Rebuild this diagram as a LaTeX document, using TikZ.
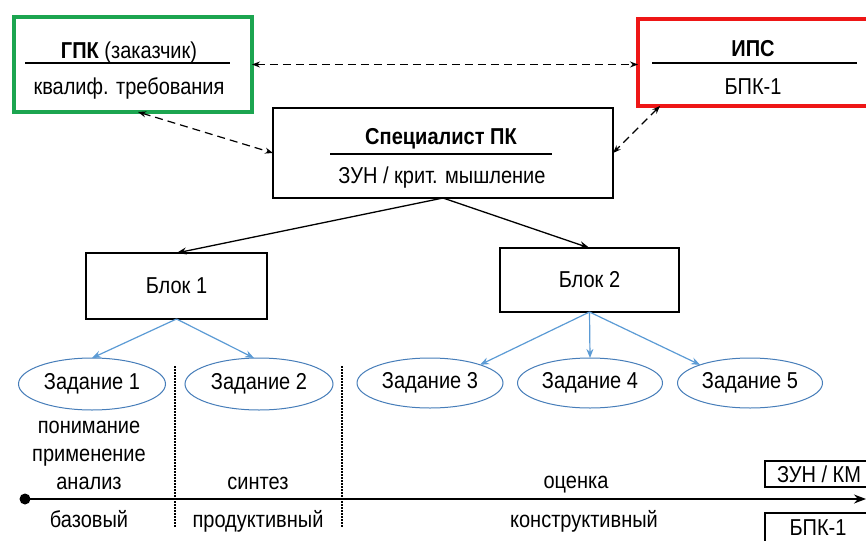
\documentclass[tikz,border=0pt]{standalone}
\usepackage{fontspec}
\setmainfont[FakeStretch=0.87]{Liberation Sans}
\usetikzlibrary{arrows.meta,calc,shapes.geometric}
\definecolor{gpkgreen}{RGB}{28,165,80}
\definecolor{ipsred}{RGB}{238,22,22}
\definecolor{arrowblue}{RGB}{91,155,213}
\definecolor{ellblue}{RGB}{70,125,185}
\begin{document}
\begin{tikzpicture}[x=1pt,y=-1pt,
  every node/.style={font=\fontsize{23}{28}\selectfont, inner sep=0pt, outer sep=0pt},
  txt/.style={anchor=base},
  frame/.style={draw, line width=1.3pt, rectangle},
  gframe/.style={draw=gpkgreen, line width=4pt, rectangle},
  rframe/.style={draw=ipsred, line width=4pt, rectangle},
  task/.style={ellipse, draw=ellblue, line width=1pt, minimum height=50pt},
  dasharrow/.style={dash pattern=on 8pt off 5pt, line width=1.2pt, {Stealth[length=8pt,width=6pt]}-{Stealth[length=8pt,width=6pt]}},
  blackarrow/.style={line width=1.3pt, -{Stealth[length=10pt,width=7pt]}},
  bluearrow/.style={draw=arrowblue, line width=1.2pt, -{Stealth[length=9pt,width=7pt]}},
  rulel/.style={line width=1.3pt},
  sep/.style={dash pattern=on 1.5pt off 1.5pt, line width=1.3pt}
]
\useasboundingbox (0,0) rectangle (866,540);
\fill[white] (0,0) rectangle (866,540);

% top boxes
\node[gframe, minimum width=238pt, minimum height=95pt] (gpk) at (133,64.5) {};
\node[txt] (gpkT) at (129,59) {\textbf{ГПК} (заказчик)};
\node[txt] (gpkS) at (129,95) {квалиф. требования};
\draw[rulel] (25,63) -- (230,63);

\node[rframe, minimum width=242pt, minimum height=87pt] (ips) at (759,62.5) {};
\node[txt] (ipsT) at (753,57) {\textbf{ИПС}};
\node[txt] (ipsS) at (753,95) {БПК-1};
\draw[rulel] (652,63) -- (857,63);

\node[frame, minimum width=340pt, minimum height=90pt] (spec) at (443,153) {};
\node[txt] (specT) at (441,145) {\textbf{Специалист ПК}};
\node[txt] (specS) at (442,183) {ЗУН / крит. мышление};
\draw[rulel] (330,154) -- (552,154);

% dashed links
\draw[dasharrow] (gpk.east) -- (gpk.east -| ips.west);
\draw[dasharrow] ([xshift=5pt]gpk.south) -- (spec.west);
\draw[dasharrow] ([xshift=22pt]ips.south west) -- (spec.east);

% blocks
\node[frame, minimum width=181pt, minimum height=66pt] (b1) at (176.5,286) {Блок 1};
\node[frame, minimum width=179pt, minimum height=64pt] (b2) at (589.5,280) {Блок 2};
\draw[blackarrow] (spec.south) -- (b1.north);
\draw[blackarrow] (spec.south) -- (b2.north);

% tasks
\node[task, minimum width=147pt, minimum height=52pt] (z1) at (92,384) {Задание 1};
\node[task, minimum width=148pt, minimum height=52pt] (z2) at (259,384) {Задание 2};
\node[task, minimum width=146pt] (z3) at (430,383) {Задание 3};
\node[task, minimum width=145pt] (z4) at (590,383) {Задание 4};
\node[task, minimum width=145pt] (z5) at (750,383) {Задание 5};
\draw[bluearrow] (b1.south) -- (z1.north);
\draw[bluearrow] (b1.south) -- ([xshift=-5pt]z2.north);
\draw[bluearrow] (b2.south) -- (z3.20);
\draw[bluearrow] (b2.south) -- (z4.north);
\draw[bluearrow] (b2.south) -- (z5.160);

% separators
\coordinate (s1top) at (175,366);
\coordinate (s1bot) at (175,528);
\coordinate (s2top) at (342,366);
\coordinate (s2bot) at (342,528);
\draw[sep] (s1top) -- (s1bot);
\draw[sep] (s2top) -- (s2bot);

% axis
\node[circle, fill, minimum size=11pt] (start) at (25,499) {};
\coordinate (axend) at (866,499);
\draw[line width=1.5pt, -{Stealth[length=12pt,width=9pt]}] (start.center) -- (axend);

% labels
\node[txt] (l1) at (89,433) {понимание};
\node[txt] (l2) at (89,461) {применение};
\node[txt] (l3) at (89,489) {анализ};
\node[txt] (l4) at (89,527) {базовый};
\node[txt] (l5) at (258,489) {синтез};
\node[txt] (l6) at (258,527) {продуктивный};
\node[txt] (l7) at (576,488) {оценка};
\node[txt] (l8) at (584,527) {конструктивный};

% right boxes
\node[frame, minimum width=125pt, minimum height=26pt] (zun) at (827.5,474) {};
\node[txt] (zunT) at (819,482) {ЗУН / КМ};
\node[frame, minimum width=125pt, minimum height=37pt] (bpk) at (827.5,531.5) {};
\node[txt] (bpkT) at (818,535) {БПК-1};
\end{tikzpicture}
\end{document}
